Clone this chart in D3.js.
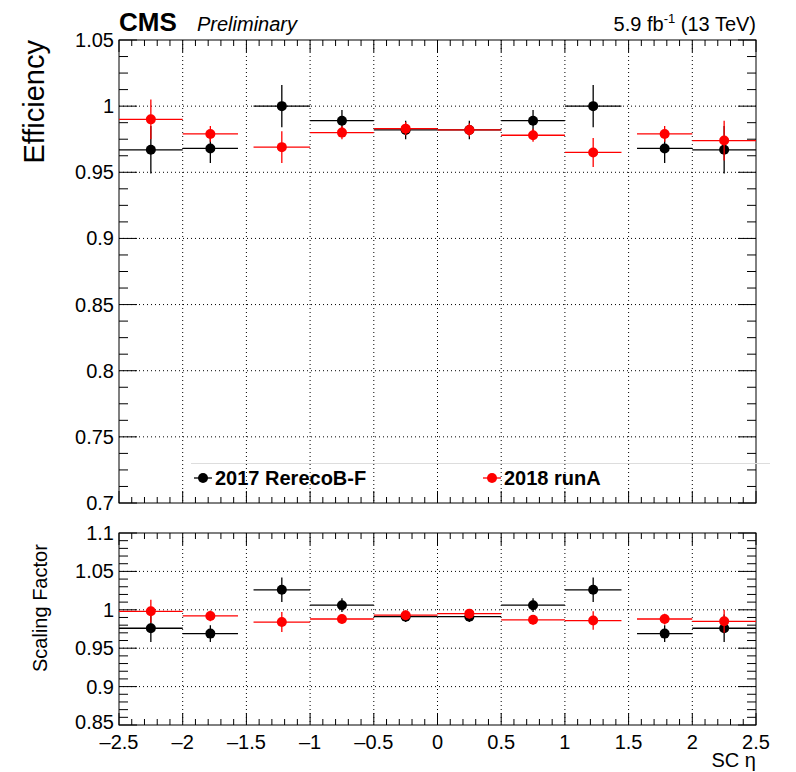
<!DOCTYPE html>
<html><head><meta charset="utf-8">
<script src="https://cdn.jsdelivr.net/npm/d3@7"></script>
<style>
body{margin:0;background:#fff;font-family:"Liberation Sans",Arial,sans-serif}
svg text{font-family:"Liberation Sans",Arial,sans-serif;fill:#000}
</style></head><body>
<svg id="c" width="796" height="772"></svg>
<script>
const binLo = [-2.5, -2, -1.444, -1, -0.5, 0, 0.5, 1, 1.566, 2];
const binHi = [-2, -1.566, -1, -0.5, 0, 0.5, 1, 1.444, 2, 2.5];
const eff2017 = [0.967, 0.968, 1.0, 0.989, 0.982, 0.982, 0.989, 1.0, 0.968, 0.967];
const effErr2017 = [0.018, 0.011, 0.016, 0.008, 0.007, 0.007, 0.008, 0.016, 0.011, 0.018];
const eff2018 = [0.990, 0.979, 0.969, 0.980, 0.983, 0.982, 0.978, 0.965, 0.979, 0.974];
const effErr2018 = [0.015, 0.006, 0.012, 0.005, 0.005, 0.005, 0.005, 0.011, 0.006, 0.015];
const sf2017 = [0.976, 0.969, 1.026, 1.006, 0.991, 0.991, 1.006, 1.026, 0.969, 0.976];
const sfErr2017 = [0.018, 0.011, 0.016, 0.009, 0.007, 0.007, 0.009, 0.016, 0.011, 0.018];
const sf2018 = [0.998, 0.992, 0.984, 0.988, 0.993, 0.995, 0.987, 0.986, 0.988, 0.985];
const sfErr2018 = [0.015, 0.007, 0.013, 0.006, 0.006, 0.006, 0.006, 0.012, 0.007, 0.015];
const xTicks = [-2.5, -2, -1.5, -1, -0.5, 0, 0.5, 1, 1.5, 2, 2.5];
const effTicks = [0.7, 0.75, 0.8, 0.85, 0.9, 0.95, 1, 1.05];
const sfTicks = [0.85, 0.9, 0.95, 1, 1.05, 1.1];

const svg = d3.select("#c");
const L = 119, R = 756;
const x = d3.scaleLinear().domain([-2.5, 2.5]).range([L, R]);
const yTop = d3.scaleLinear().domain([0.7, 1.05]).range([503, 40]);
const yBot = d3.scaleLinear().domain([0.85, 1.1]).range([725, 533]);

function panel(y, ticks, minorN, showLabels) {
  const [b, t] = y.range();
  const g = svg.append("g");
  // dotted grid
  xTicks.slice(1, -1).forEach(v => g.append("line").attr("x1", x(v)).attr("x2", x(v)).attr("y1", t).attr("y2", b)
    .attr("stroke", "#000").attr("stroke-dasharray", "1,3"));
  ticks.slice(1, -1).forEach(v => g.append("line").attr("x1", L).attr("x2", R).attr("y1", y(v)).attr("y2", y(v))
    .attr("stroke", "#000").attr("stroke-dasharray", "1,3"));
  // ticks
  for (let v = -2.5; v <= 2.5001; v += 0.1) {
    const major = Math.abs(v * 2 - Math.round(v * 2)) < 1e-6;
    const len = major ? 12 : 6;
    [b, t].forEach((yy, i) => g.append("line").attr("x1", x(v)).attr("x2", x(v))
      .attr("y1", yy).attr("y2", i === 0 ? yy - len : yy + len).attr("stroke", "#000"));
  }
  const d = y.domain(), dy = (ticks[1] - ticks[0]) / minorN;
  for (let v = d[0]; v <= d[1] + 1e-6; v += dy) {
    const major = ticks.some(tk => Math.abs(tk - v) < 1e-6);
    const len = major ? 18 : 9;
    g.append("line").attr("x1", L).attr("x2", L + len).attr("y1", y(v)).attr("y2", y(v)).attr("stroke", "#000");
    g.append("line").attr("x1", R).attr("x2", R - len).attr("y1", y(v)).attr("y2", y(v)).attr("stroke", "#000");
  }
  g.append("rect").attr("x", L).attr("y", t).attr("width", R - L).attr("height", b - t)
    .attr("fill", "none").attr("stroke", "#000");
  ticks.forEach((v, i) => g.append("text").attr("x", L - 5).attr("y", y(v) + 7 - (showLabels && i === 0 ? 3 : 0))
    .attr("text-anchor", "end").attr("font-size", 20).text(d3.format("~g")(v)));
  if (showLabels) xTicks.forEach(v => g.append("text").attr("x", x(v)).attr("y", b + 24).attr("text-anchor", "middle")
    .attr("font-size", 20).text(v < 0 ? "\u2013" + (-v) : v));
}

function series(y, vals, errs, color) {
  const g = svg.append("g");
  vals.forEach((v, i) => {
    const c = (binLo[i] + binHi[i]) / 2;
    g.append("line").attr("x1", x(binLo[i])).attr("x2", x(binHi[i])).attr("y1", y(v)).attr("y2", y(v))
      .attr("stroke", color).attr("stroke-width", 1.3);
    g.append("line").attr("x1", x(c)).attr("x2", x(c)).attr("y1", y(v - errs[i])).attr("y2", y(v + errs[i]))
      .attr("stroke", color).attr("stroke-width", 1.3);
    g.append("circle").attr("cx", x(c)).attr("cy", y(v)).attr("r", 5).attr("fill", color);
  });
}

panel(yTop, effTicks, 4, false);
panel(yBot, sfTicks, 5, true);
series(yTop, eff2017, effErr2017, "#000");
series(yTop, eff2018, effErr2018, "#ff0000");
series(yBot, sf2017, sfErr2017, "#000");
series(yBot, sf2018, sfErr2018, "#ff0000");

// legend
svg.append("line").attr("x1", 191).attr("x2", 770).attr("y1", 463.5).attr("y2", 463.5).attr("stroke", "#ddd");
[["2017 RerecoB-F", "#000", 194], ["2018 runA", "#ff0000", 483]].forEach(([t, c, lx]) => {
  svg.append("line").attr("x1", lx).attr("x2", lx + 18).attr("y1", 478).attr("y2", 478).attr("stroke", c).attr("stroke-width", 1.3);
  svg.append("circle").attr("cx", lx + 9).attr("cy", 478).attr("r", 5).attr("fill", c);
  svg.append("text").attr("x", lx + 21).attr("y", 485).attr("font-size", 20).attr("font-weight", "bold").text(t);
});

// titles
svg.append("text").attr("x", 119).attr("y", 31).attr("font-size", 26).attr("font-weight", "bold").text("CMS");
svg.append("text").attr("x", 197).attr("y", 31).attr("font-size", 20).attr("font-style", "italic").text("Preliminary");
const lumi = svg.append("text").attr("x", 756).attr("y", 31).attr("text-anchor", "end").attr("font-size", 20);
lumi.append("tspan").text("5.9 fb");
lumi.append("tspan").attr("dy", -8).attr("font-size", 13).text("-1");
lumi.append("tspan").attr("dy", 8).text(" (13 TeV)");
svg.append("text").attr("transform", "translate(44,40) rotate(-90)").attr("text-anchor", "end")
  .attr("font-size", 29).text("Efficiency");
svg.append("text").attr("transform", "translate(47,672) rotate(-90)").attr("font-size", 20).text("Scaling Factor");
svg.append("text").attr("x", 756).attr("y", 767).attr("text-anchor", "end").attr("font-size", 20).text("SC \u03b7");
</script></body></html>
